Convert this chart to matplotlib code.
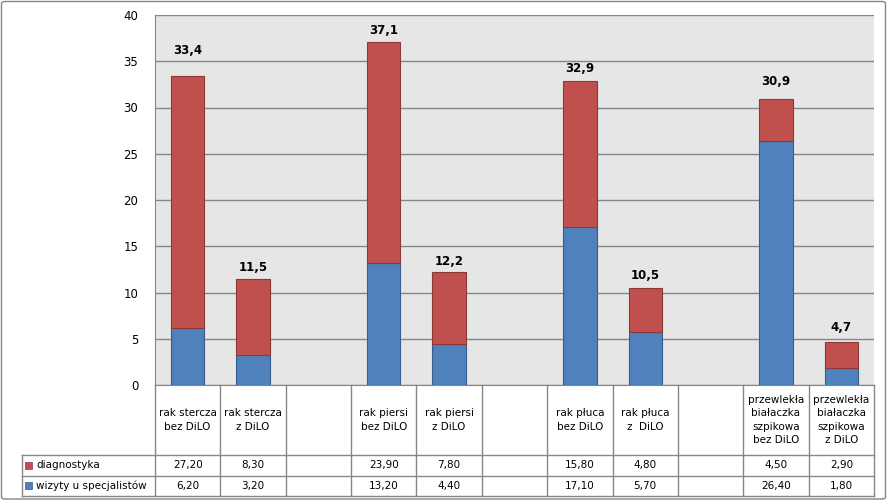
import numpy as np
import matplotlib
matplotlib.use('Agg')
import matplotlib.pyplot as plt
from matplotlib.lines import Line2D
from matplotlib.patches import FancyBboxPatch, Rectangle

# dane z wykresu (puste kolumny = przerwy miedzy grupami)
categories = ['rak stercza\nbez DiLO', 'rak stercza\nz DiLO', '',
              'rak piersi\nbez DiLO', 'rak piersi\nz DiLO', '',
              'rak płuca\nbez DiLO', 'rak płuca\nz  DiLO', '',
              'przewlekła\nbiałaczka\nszpikowa\nbez DiLO',
              'przewlekła\nbiałaczka\nszpikowa\nz DiLO']
wizyty = [6.2, 3.2, None, 13.2, 4.4, None, 17.1, 5.7, None, 26.4, 1.8]
diagnostyka = [27.2, 8.3, None, 23.9, 7.8, None, 15.8, 4.8, None, 4.5, 2.9]
series_names = ['diagnostyka', 'wizyty u specjalistów']

# przesuniecie etykiet sum nad slupkami (jednostki osi y)
label_offset = [2.8, 1.15, None, 1.2, 1.2, None, 1.3, 1.3, None, 1.9, 1.5]

W, H = 889, 504
RED, RED_E = '#c0504d', '#8c3836'
BLUE, BLUE_E = '#4f81bd', '#385d8a'
GRID = '#868686'


def fx(px):
    return px / W


def fy(py):
    return 1 - py / H


fig = plt.figure(figsize=(W / 100, H / 100), dpi=100)
fig.patch.set_facecolor('white')

# obramowanie calego wykresu
frame = FancyBboxPatch((fx(1.5), fy(499)), fx(884), 497.5 / H,
                       boxstyle='round,pad=0,rounding_size=0.004',
                       transform=fig.transFigure, fill=False,
                       edgecolor=GRID, linewidth=1.0)
fig.add_artist(frame)

left, right, top, bottom = 155, 874, 15, 385
ax = fig.add_axes([fx(left), fy(bottom), (right - left) / W, (bottom - top) / H])
ax.set_facecolor('#e6e6e6')

n = len(categories)
x = np.arange(n)
for i in range(n):
    if wizyty[i] is None:
        continue
    ax.bar(x[i], wizyty[i], width=0.51, color=BLUE, edgecolor=BLUE_E, linewidth=0.8, zorder=3)
    ax.bar(x[i], diagnostyka[i], width=0.51, bottom=wizyty[i], color=RED,
           edgecolor=RED_E, linewidth=0.8, zorder=3)
    total = wizyty[i] + diagnostyka[i]
    ax.text(x[i], total + label_offset[i], ('%.1f' % total).replace('.', ','),
            ha='center', va='center', fontsize=8.5, fontweight='bold', zorder=4)

ax.set_xlim(-0.5, n - 0.5)
ax.set_ylim(0, 40)
ax.set_yticks(range(0, 41, 5))
ax.set_xticks([])
ax.yaxis.grid(True, color=GRID, linewidth=1.0)
ax.set_axisbelow(True)
ax.tick_params(axis='y', length=0, pad=12, labelsize=8.5)
for s in ['right', 'top']:
    ax.spines[s].set_visible(False)
for s in ['left', 'bottom']:
    ax.spines[s].set_color(GRID)

# tabela danych pod wykresem
col_w = (right - left) / n
row_h = 455
row1 = 475.7
row2 = 496
edges = [left + col_w * k for k in range(n + 1)]


def hline(x0, x1, y):
    fig.add_artist(Line2D([fx(x0), fx(x1)], [fy(y), fy(y)], color=GRID, linewidth=1.0))


def vline(xp, y0, y1):
    fig.add_artist(Line2D([fx(xp), fx(xp)], [fy(y0), fy(y1)], color=GRID, linewidth=1.0))


hline(22, right, row_h)
hline(22, right, row1)
hline(22, right, row2)
vline(22, row_h, row2)
for e in edges:
    vline(e, bottom, row2)

for i, c in enumerate(categories):
    cx = left + col_w * (i + 0.5)
    fig.text(fx(cx), fy((bottom + row_h) / 2), c, ha='center', va='center',
             fontsize=7.5, linespacing=1.45)
    for vals, y0, y1 in [(diagnostyka, row_h, row1), (wizyty, row1, row2)]:
        if vals[i] is not None:
            fig.text(fx(cx), fy((y0 + y1) / 2), ('%.2f' % vals[i]).replace('.', ','),
                     ha='center', va='center', fontsize=7.5)

for name, col, y0, y1 in [(series_names[0], RED, row_h, row1),
                          (series_names[1], BLUE, row1, row2)]:
    cy = (y0 + y1) / 2
    fig.add_artist(Rectangle((fx(25), fy(cy + 3.5)), 7 / W, 7 / H,
                             transform=fig.transFigure, facecolor=col,
                             edgecolor=RED_E if col == RED else BLUE_E, linewidth=0.5))
    fig.text(fx(36), fy(cy), name, ha='left', va='center', fontsize=7.5)

fig.savefig('out.png', dpi=100)
